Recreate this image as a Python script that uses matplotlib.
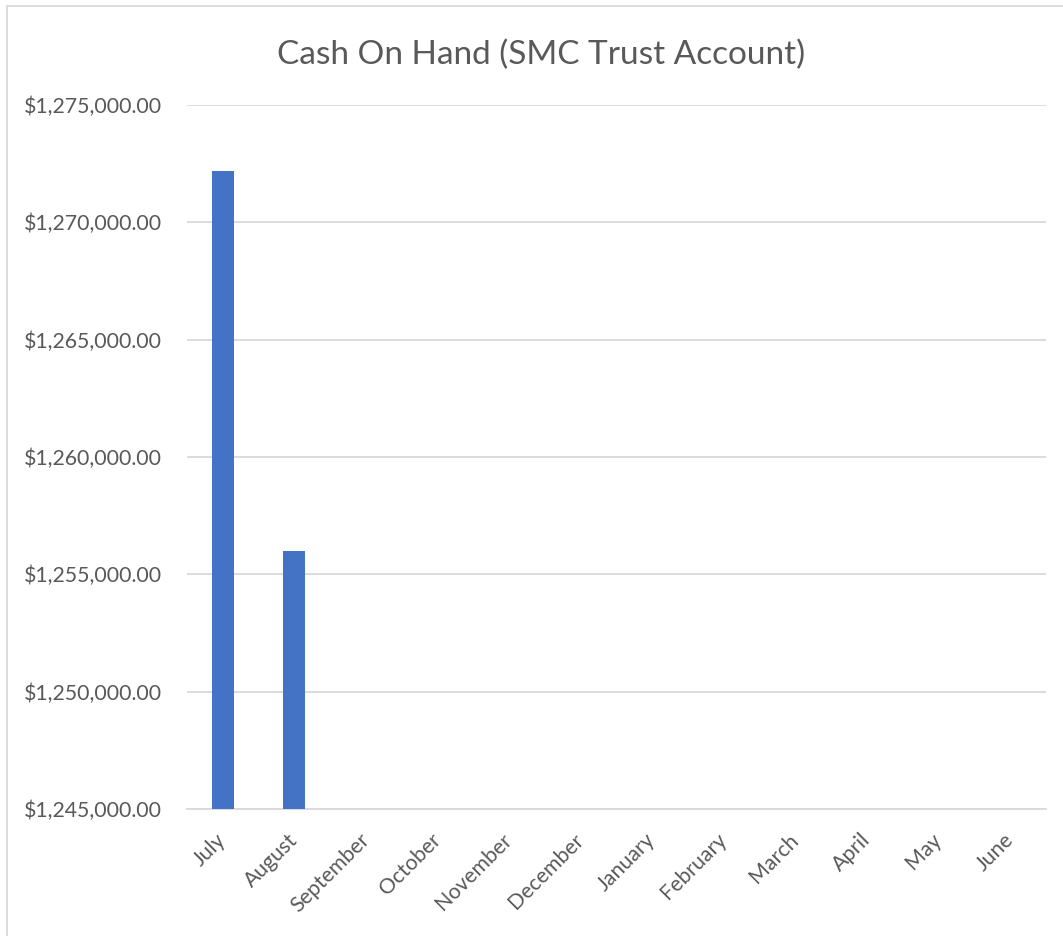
import matplotlib
matplotlib.use("Agg")
import matplotlib.pyplot as plt
from matplotlib.patches import Rectangle
from matplotlib.ticker import FuncFormatter

months = ["July", "August", "September", "October", "November", "December",
          "January", "February", "March", "April", "May", "June"]
cash = [1272200, 1256000, None, None, None, None, None, None, None, None, None, None]
y_ticks = [1245000, 1250000, 1255000, 1260000, 1265000, 1270000, 1275000]

plt.rcParams['font.family'] = ['Lato', 'DejaVu Sans']
text_color = '#595959'
grid_color = '#d9d9d9'

fig = plt.figure(figsize=(10.63, 9.36), dpi=100)
ax = fig.add_axes([187/1063, 1 - 809/936, (1046-187)/1063, (809-105)/936])

xs = list(range(len(months)))
bar_x = [x for x, v in zip(xs, cash) if v is not None]
bar_v = [v for v in cash if v is not None]
ax.bar(bar_x, bar_v, width=0.307, color='#4472C4', zorder=3)

ax.set_xlim(-0.5, len(months) - 0.5)
ax.set_ylim(y_ticks[0], y_ticks[-1])
ax.set_yticks(y_ticks)
ax.yaxis.set_major_formatter(FuncFormatter(lambda v, p: f"${v:,.2f}"))
ax.set_xticks(xs)
ax.set_xticklabels(months, rotation=45, ha='right', va='center', rotation_mode='anchor')

ax.grid(axis='y', color=grid_color, linewidth=1.3, zorder=0)
for s in ['top', 'right', 'left']:
    ax.spines[s].set_visible(False)
ax.spines['bottom'].set_color(grid_color)
ax.spines['bottom'].set_linewidth(1.3)
ax.tick_params(axis='both', length=0, colors=text_color, labelsize=15.3)
ax.tick_params(axis='y', pad=18)
ax.tick_params(axis='x', pad=20)

fig.text(541/1063, 1 - 55/936, "Cash On Hand (SMC Trust Account)", ha='center', va='center',
         fontsize=24, color=text_color)

fig.patches.append(Rectangle((7/1063, -0.1), 1.2, 1 - 6.5/936 + 0.1, transform=fig.transFigure,
                             fill=False, edgecolor=grid_color, linewidth=1.3))

fig.savefig("out.png", dpi=100)
